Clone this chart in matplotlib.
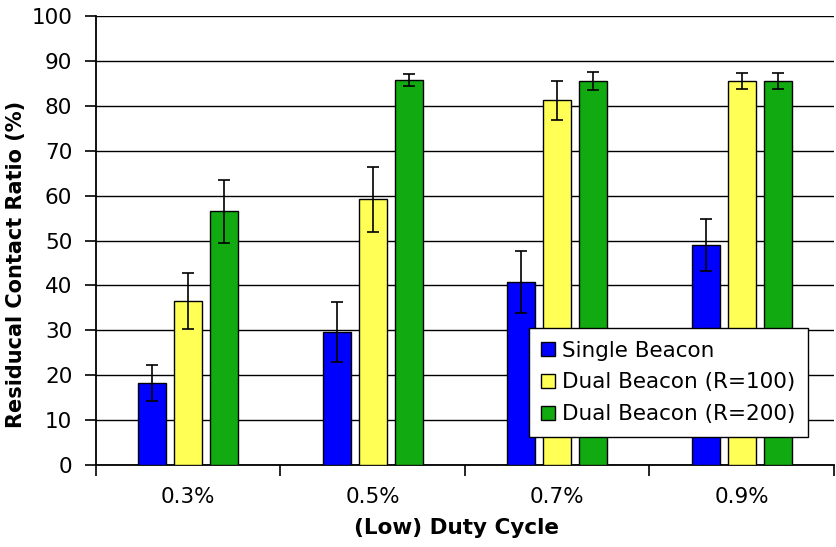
import numpy as np
import matplotlib.pyplot as plt

plt.rcParams['font.family'] = ['DejaVu Sans']

# Residual contact ratio per duty cycle, with error bar half-widths
cycles = ["0.3%", "0.5%", "0.7%", "0.9%"]
single = [18.3, 29.7, 40.8, 49.0]
single_err = [4.0, 6.7, 6.9, 5.8]
dual_100 = [36.5, 59.2, 81.2, 85.5]
dual_100_err = [6.3, 7.2, 4.3, 1.7]
dual_200 = [56.5, 85.7, 85.5, 85.5]
dual_200_err = [7.0, 1.3, 2.0, 1.7]

series = [
    ("Single Beacon", single, single_err, "#0000ff"),
    ("Dual Beacon (R=100)", dual_100, dual_100_err, "#ffff55"),
    ("Dual Beacon (R=200)", dual_200, dual_200_err, "#11aa11"),
]

fig = plt.figure(figsize=(8.36, 5.47), dpi=100)
ax = fig.add_axes([0.1148, 0.1499, 0.8828, 0.8208])

x = np.arange(len(cycles))
width = 0.15
step = 0.195
for i, (name, vals, errs, color) in enumerate(series):
    ax.bar(x + (i - 1) * step, vals, width, color=color, edgecolor="black",
           linewidth=1.0, label=name, zorder=3,
           yerr=errs, error_kw=dict(ecolor="black", elinewidth=1.2,
                                    capsize=4.5, capthick=1.2, zorder=4))

ax.set_xlim(-0.5, len(cycles) - 0.5)
ax.set_ylim(0, 100)
ax.set_yticks(np.arange(0, 101, 10))
ax.yaxis.grid(True, color="black", linewidth=1.0, zorder=0)

# ticks at category boundaries, labels at centres
ax.set_xticks(np.arange(-0.5, len(cycles)), minor=False)
ax.set_xticklabels([])
ax.set_xticks(x, minor=True)
ax.set_xticklabels(cycles, minor=True)
ax.tick_params(axis="x", which="major", length=8, width=1.2, direction="out")
ax.tick_params(axis="x", which="minor", length=0, pad=16, labelsize=15.5)
ax.tick_params(axis="y", length=8, width=1.2, direction="out", labelsize=15.5,
               pad=9)

for side in ("top", "right"):
    ax.spines[side].set_visible(False)
for side in ("left", "bottom"):
    ax.spines[side].set_linewidth(1.3)

ax.set_ylabel("Residucal Contact Ratio (%)", fontsize=15, fontweight="bold")
ax.yaxis.set_label_coords(-0.095, 0.446)
ax.set_xlabel("(Low) Duty Cycle", fontsize=15.5, fontweight="bold")
ax.xaxis.set_label_coords(0.488, -0.118)

leg = ax.legend(loc="lower right", bbox_to_anchor=(0.965, 0.062),
                fontsize=15.5, frameon=True, fancybox=False, framealpha=1,
                handlelength=0.65, handleheight=0.65, handletextpad=0.3,
                borderpad=0.6, labelspacing=0.55, borderaxespad=0)
leg.get_frame().set_edgecolor("black")
leg.get_frame().set_linewidth(1.0)
leg.set_zorder(5)

fig.savefig("out.png", dpi=100)
